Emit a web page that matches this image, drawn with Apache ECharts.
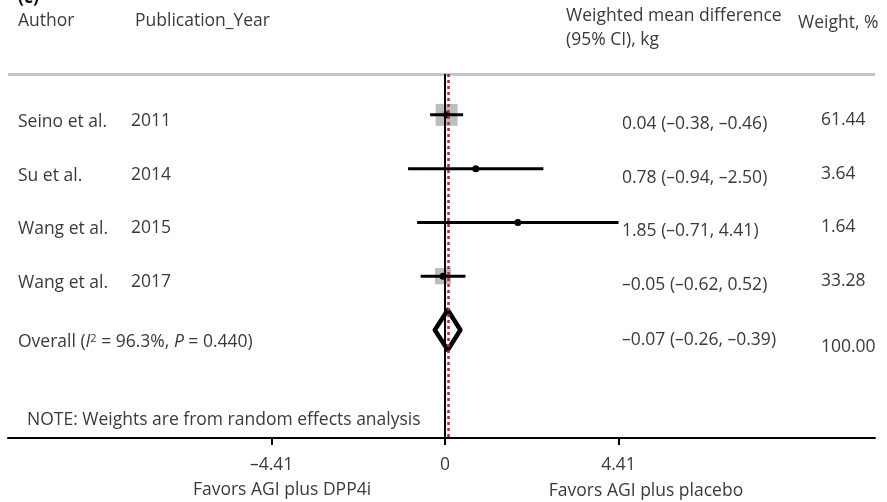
<!DOCTYPE html>
<html>
<head>
<meta charset="utf-8">
<script src="https://cdn.jsdelivr.net/npm/echarts@6/dist/echarts.min.js"></script>
<style>html,body{margin:0;padding:0;background:#fff}#chart{width:887px;height:502px}</style>
</head>
<body>
<div id="chart"></div>
<script>
// ---- data ----
const authors = ['Seino et al.', 'Su et al.', 'Wang et al.', 'Wang et al.'];
const years = ['2011', '2014', '2015', '2017'];
const estimates = [0.04, 0.78, 1.85, -0.05];
const lowerCI = [-0.38, -0.94, -0.71, -0.62];
const upperCI = [0.46, 2.50, 4.41, 0.52];
const weights = [61.44, 3.64, 1.64, 33.28];
const effectLabels = ['0.04 (–0.38, –0.46)', '0.78 (–0.94, –2.50)', '1.85 (–0.71, 4.41)', '–0.05 (–0.62, 0.52)'];
const weightLabels = ['61.44', '3.64', '1.64', '33.28'];
const overallEstimate = 0.07;
const overallLower = -0.26;
const overallUpper = 0.39;
const overallEffectLabel = '–0.07 (–0.26, –0.39)';
const overallWeightLabel = '100.00';
const xTicks = [-4.41, 0, 4.41];

// ---- style ----
const FONT = '"Open Sans", "Noto Sans", sans-serif';
const TXT = '#3a3a3a';
const FS = 17.5;
const rows = authors.map((a, i) => i + 1);
const overallRow = authors.length + 1;

const chart = echarts.init(document.getElementById('chart'), null, {renderer: 'canvas'});

function txt(x, y, text, extra) {
  return {type: 'text', style: Object.assign({text: text, x: x, y: y, fill: TXT, fontSize: FS, fontFamily: FONT, verticalAlign: 'middle', align: 'left'}, extra || {})};
}

const studyData = rows.map((r, i) => [estimates[i], lowerCI[i], upperCI[i], weights[i], r, i]);

const option = {
  animation: false,
  grid: {left: 8, right: 12, top: 74, bottom: 64},
  xAxis: {
    type: 'value', min: -11.11, max: 10.93,
    splitLine: {show: false},
    axisLine: {show: true, lineStyle: {color: '#000', width: 2}},
    axisTick: {show: true, customValues: xTicks, length: 7, lineStyle: {color: '#000', width: 2}},
    axisLabel: {show: true, customValues: xTicks, margin: 18, color: TXT, fontSize: FS, fontFamily: FONT,
      formatter: v => (v < 0 ? '–' + Math.abs(v) : String(v))}
  },
  yAxis: {type: 'value', inverse: true, min: 0.24, max: 7.01, show: false},
  series: [
    {
      type: 'custom',
      data: studyData,
      clip: false,
      renderItem: function (params, api) {
        const est = api.value(0), lo = api.value(1), hi = api.value(2), w = api.value(3), r = api.value(4);
        const c = api.coord([est, r]);
        const pl = api.coord([lo, r]);
        const ph = api.coord([hi, r]);
        const s = 2.8 * Math.sqrt(w);
        return {type: 'group', children: [
          {type: 'rect', shape: {x: c[0] - s / 2, y: c[1] - s / 2, width: s, height: s}, style: {fill: '#bdbdbd'}},
          {type: 'line', shape: {x1: pl[0], y1: pl[1], x2: ph[0], y2: ph[1]}, style: {stroke: '#000', lineWidth: 3}},
          {type: 'circle', shape: {cx: c[0], cy: c[1], r: 3.5}, style: {fill: '#000'}}
        ]};
      },
      z: 3
    },
    {
      type: 'custom',
      data: [[overallEstimate, overallLower, overallUpper, overallRow]],
      clip: false,
      renderItem: function (params, api) {
        const est = api.value(0), lo = api.value(1), hi = api.value(2), r = api.value(3);
        const c = api.coord([est, r]);
        const pl = api.coord([lo, r]);
        const ph = api.coord([hi, r]);
        const h = 20;
        return {type: 'polygon', shape: {points: [[pl[0], pl[1]], [c[0], c[1] - h], [ph[0], ph[1]], [c[0], c[1] + h]]},
          style: {fill: 'rgba(255,255,255,0)', stroke: '#000', lineWidth: 4.5, lineJoin: 'round'}};
      },
      z: 4
    },
    {
      // text columns, positioned vertically by the y scale
      type: 'custom',
      data: studyData,
      clip: false,
      silent: true,
      renderItem: function (params, api) {
        const i = api.value(5);
        const y = api.coord([0, api.value(4)])[1];
        return {type: 'group', children: [
          txt(18, y + 7, authors[i]),
          txt(131, y + 6, years[i]),
          txt(622, y + 9, effectLabels[i]),
          txt(821, y + 5, weightLabels[i])
        ]};
      }
    },
    {
      type: 'custom',
      data: [[overallRow]],
      clip: false,
      silent: true,
      renderItem: function (params, api) {
        const y = api.coord([0, api.value(0)])[1];
        return {type: 'group', children: [
          txt(18, y + 12, '{n|Overall (}{i|I}{s|2}{n| = 96.3%, }{i|P}{n| = 0.440)}', {
            rich: {
              n: {fontSize: FS, fontFamily: FONT, fill: TXT, color: TXT},
              i: {fontSize: FS, fontFamily: FONT, fontStyle: 'italic', fill: TXT, color: TXT},
              s: {fontSize: 11, fontFamily: FONT, fill: TXT, color: TXT, verticalAlign: 'top', padding: [0, 0, 7, 0]}
            }
          }),
          txt(622, y + 10, overallEffectLabel),
          txt(821, y + 17, overallWeightLabel)
        ]};
      }
    },
    {
      // reference lines
      type: 'line',
      data: [],
      markLine: {
        silent: true, symbol: 'none', label: {show: false},
        data: [
          {yAxis: 0.24, lineStyle: {color: '#c4c4c4', width: 3, type: 'solid'}},
          {xAxis: 0, lineStyle: {color: '#000', width: 2, type: 'solid'}},
          {xAxis: overallEstimate, lineStyle: {color: '#b02a35', width: 2.5, type: [3, 3]}}
        ]
      },
      z: 2
    }
  ],
  graphic: [
    {type: 'text', x: 18, y: -11, style: {text: '(c)', fontSize: FS, fontWeight: 'bold', fontFamily: FONT, fill: '#111'}},
    {type: 'text', x: 18, y: 21, style: {text: 'Author', fontSize: FS, fontFamily: FONT, fill: TXT, verticalAlign: 'middle'}},
    {type: 'text', x: 135, y: 21, style: {text: 'Publication_Year', fontSize: FS, fontFamily: FONT, fill: TXT, verticalAlign: 'middle'}},
    {type: 'text', x: 566, y: 16, style: {text: 'Weighted mean difference', fontSize: FS, fontFamily: FONT, fill: TXT, verticalAlign: 'middle'}},
    {type: 'text', x: 566, y: 40, style: {text: '(95% CI), kg', fontSize: FS, fontFamily: FONT, fill: TXT, verticalAlign: 'middle'}},
    {type: 'text', x: 798, y: 23, style: {text: 'Weight, %', fontSize: FS, fontFamily: FONT, fill: TXT, verticalAlign: 'middle'}},
    {type: 'text', x: 27, y: 420, style: {text: 'NOTE: Weights are from random effects analysis', fontSize: FS, fontFamily: FONT, fill: TXT, verticalAlign: 'middle'}},
    {type: 'text', x: 282, y: 490, style: {text: 'Favors AGI plus DPP4i', fontSize: FS, fontFamily: FONT, fill: TXT, verticalAlign: 'middle', align: 'center'}},
    {type: 'text', x: 646, y: 491, style: {text: 'Favors AGI plus placebo', fontSize: FS, fontFamily: FONT, fill: TXT, verticalAlign: 'middle', align: 'center'}}
  ]
};
chart.setOption(option);
</script>
</body>
</html>
